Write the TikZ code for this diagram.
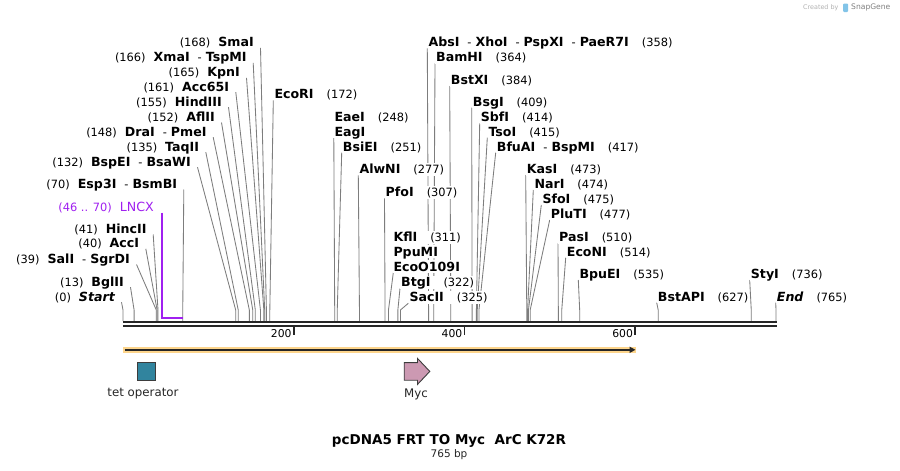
\documentclass[tikz,border=0pt]{standalone}
\usepackage{fontspec}
\setmainfont{DejaVu Sans}
\usetikzlibrary{arrows.meta}
\pgfdeclarelayer{bg}
\pgfsetlayers{bg,main}
\definecolor{sitegray}{RGB}{125,125,125}
\definecolor{bbdark}{RGB}{38,38,38}
\definecolor{lncxcol}{RGB}{160,32,240}
\definecolor{orangeband}{RGB}{253,213,140}
\definecolor{tetfill}{RGB}{49,132,158}
\definecolor{mycfill}{RGB}{204,153,178}
\definecolor{featborder}{RGB}{60,60,60}
\definecolor{logoblue}{RGB}{130,196,232}
\newcommand\sitenum[1]{{\fontsize{11.4}{13}\selectfont #1}}
\newcommand\sitename[1]{{\fontsize{12.6}{14}\selectfont\bfseries #1}}
\newcommand\sdash{\hspace{8pt}\sitenum{-}\hspace{4pt}}
\newcommand\bpx[1]{123+#1*0.8536}
% left site: name, xend, y, bp, number, names
\newcommand\lsite[6]{%
  \node[lbl,anchor=east] (#1) at ({#2+1},#3) {\sitenum{(#5)}\hspace{8pt}#6};
  \coordinate (#1c) at ({\bpx{#4}},321);
  \begin{pgfonlayer}{bg}
  \draw[site] ([shift={(5.5,5.5)}]#1.east) -- ([yshift=11pt]#1c) -- (#1c);
  \end{pgfonlayer}}
% right site: name, xstart, y, bp, names, number
\newcommand\rsite[6]{%
  \node[lbl,anchor=west] (#1) at ({#2-1},#3) {#5\hspace{13pt}\sitenum{(#6)}};
  \coordinate (#1c) at ({\bpx{#4}},321);
  \begin{pgfonlayer}{bg}
  \draw[site] ([shift={(0,6)}]#1.west) -- ([yshift=11pt]#1c) -- (#1c);
  \end{pgfonlayer}}
\begin{document}
\begin{tikzpicture}[x=1pt,y=-1pt,
  lbl/.style={inner xsep=1pt,inner ysep=2pt,text height=9pt,text depth=0pt,fill=white},
  site/.style={draw=sitegray,line width=0.85pt},
  tickmark/.style={draw=bbdark,line width=1.8pt},
  ticklbl/.style={inner sep=0pt,anchor=east,font=\fontsize{10.8}{12}\selectfont},
  featlbl/.style={inner sep=0pt,font=\fontsize{11.8}{13}\selectfont,text=black!85}]
\begin{pgfonlayer}{bg}
\fill[white] (0,0) rectangle (900,471);
\end{pgfonlayer}
\useasboundingbox (0,0) rectangle (900,471);

% logo
\node[inner sep=0pt,anchor=west,text=black!30,font=\fontsize{6.4}{7}\selectfont] (createdby) at (803,7.3) {Created by};
\fill[logoblue,rounded corners=1pt] (843,3.5) rectangle (848,12);
\node[inner sep=0pt,anchor=west,text=black!50,font=\fontsize{7.6}{9}\selectfont] (snapgene) at (851,7.5) {SnapGene};

% backbone
\coordinate (bbL1) at (123,322.2);
\coordinate (bbR1) at (776.5,322.2);
\coordinate (bbL2) at (123,325.8);
\coordinate (bbR2) at (776.5,325.8);
\draw[bbdark,line width=2.4pt] (bbL1) -- (bbR1);
\draw[bbdark,line width=2pt] (bbL2) -- (bbR2);

% ticks
\foreach \t in {200,400,600}{
  \coordinate (tick\t) at ({\bpx{\t}},326.5);
  \draw[tickmark] (tick\t) -- ++(0,8.5);
  \node[ticklbl] (ticklbl\t) at ([xshift=-2pt,yshift=-7pt]tick\t) {\t};
}

% left sites
\lsite{SmaI}{254}{42.3}{168}{168}{\sitename{SmaI}}
\lsite{XmaI}{246.7}{57.3}{166}{166}{\sitename{XmaI}\sdash\sitename{TspMI}}
\lsite{KpnI}{240}{72.3}{165}{165}{\sitename{KpnI}}
\lsite{AccSF}{229.3}{86.7}{161}{161}{\sitename{Acc65I}}
\lsite{HindIII}{222}{101.7}{155}{155}{\sitename{HindIII}}
\lsite{AflII}{215}{117}{152}{152}{\sitename{AflII}}
\lsite{DraI}{206.7}{131.7}{148}{148}{\sitename{DraI}\sdash\sitename{PmeI}}
\lsite{TaqII}{199.3}{146.7}{135}{135}{\sitename{TaqII}}
\lsite{BspEI}{191}{161.7}{132}{132}{\sitename{BspEI}\sdash\sitename{BsaWI}}
\lsite{EspTI}{177.3}{184}{70}{70}{\sitename{Esp3I}\sdash\sitename{BsmBI}}
\lsite{HincII}{146.7}{229}{41}{41}{\sitename{HincII}}
\lsite{AccI}{139.3}{243.3}{40}{40}{\sitename{AccI}}
\lsite{SalI}{130}{259}{39}{39}{\sitename{SalI}\sdash\sitename{SgrDI}}
\lsite{BglII}{124}{281.7}{13}{13}{\sitename{BglII}}
\lsite{Start}{115}{296.7}{0}{0}{\sitename{\itshape Start}}

% LNCX
\node[lbl,anchor=east,text=lncxcol] (lncx) at (155,206.7) {\sitenum{(46 .. 70)}\hspace{8pt}{\fontsize{12.6}{14}\selectfont LNCX}};
\coordinate (lncxA) at ({\bpx{46}},212.7);
\coordinate (lncxB) at ({\bpx{70}},317.8);
\draw[lncxcol,line width=1.6pt] (lncxA) |- (lncxB);

% right sites
\rsite{EcoRI}{274.3}{94.3}{172}{\sitename{EcoRI}}{172}
\node[lbl,anchor=west] (EaeI) at (333.3,116.7) {\sitename{EaeI}\hspace{13pt}\sitenum{(248)}};
\node[lbl,anchor=west] (EagI) at (333.3,131.7) {\sitename{EagI}};
\coordinate (EagIc) at ({\bpx{248}},321);
\begin{pgfonlayer}{bg}
\draw[site] ([shift={(0.5,6.5)}]EagI.west) -- ([yshift=11pt]EagIc) -- (EagIc);
\end{pgfonlayer}
\rsite{BsiEI}{342.7}{146.7}{251}{\sitename{BsiEI}}{251}
\rsite{AlwNI}{359.3}{169.3}{277}{\sitename{AlwNI}}{277}
\rsite{PfoI}{385.5}{192.3}{307}{\sitename{PfoI}}{307}
\node[lbl,anchor=west] (KflI) at (392.3,237.3) {\sitename{KflI}\hspace{13pt}\sitenum{(311)}};
\node[lbl,anchor=west] (PpuMI) at (392.3,251.7) {\sitename{PpuMI}};
\node[lbl,anchor=west] (EcoO) at (392.3,266.7) {\sitename{EcoO109I}};
\coordinate (EcoOc) at ({\bpx{311}},321);
\begin{pgfonlayer}{bg}
\draw[site] ([shift={(1,6)}]EcoO.west) -- ([yshift=11pt]EcoOc) -- (EcoOc);
\end{pgfonlayer}
\rsite{BtgI}{401}{282.3}{322}{\sitename{BtgI}}{322}
\rsite{SacII}{409.3}{297.3}{325}{\sitename{SacII}}{325}
\rsite{AbsI}{428.3}{42.3}{358}{\sitename{AbsI}\sdash\sitename{XhoI}\sdash\sitename{PspXI}\sdash\sitename{PaeR7I}}{358}
\rsite{BamHI}{436}{57.3}{364}{\sitename{BamHI}}{364}
\rsite{BstXI}{450.7}{80}{384}{\sitename{BstXI}}{384}
\rsite{BsgI}{472.7}{101.7}{409}{\sitename{BsgI}}{409}
\rsite{SbfI}{480.7}{117.3}{414}{\sitename{SbfI}}{414}
\rsite{TsoI}{488.3}{131.7}{415}{\sitename{TsoI}}{415}
\rsite{BfuAI}{496.7}{146.7}{417}{\sitename{BfuAI}\sdash\sitename{BspMI}}{417}
\rsite{KasI}{526.7}{169}{473}{\sitename{KasI}}{473}
\rsite{NarI}{534.3}{184}{474}{\sitename{NarI}}{474}
\rsite{SfoI}{542.3}{199}{475}{\sitename{SfoI}}{475}
\rsite{PluTI}{550.7}{214}{477}{\sitename{PluTI}}{477}
\rsite{PasI}{559}{237.3}{510}{\sitename{PasI}}{510}
\rsite{EcoNI}{566.7}{251.7}{514}{\sitename{EcoNI}}{514}
\rsite{BpuEI}{579.3}{274}{535}{\sitename{BpuEI}}{535}
\rsite{BstAPI}{657.7}{296.7}{627}{\sitename{BstAPI}}{627}
\rsite{StyI}{750.7}{274}{736}{\sitename{StyI}}{736}
\rsite{End}{776.7}{296.7}{765}{\sitename{\itshape End}}{765}

% orange ORF arrow
\coordinate (orfL) at (123,349.8);
\coordinate (orfR) at (636.5,349.8);
\draw[orangeband,line width=6pt] (orfL) -- ([xshift=-1pt]orfR);
\draw[bbdark,line width=1.6pt,-{Triangle[length=6pt,width=6pt]}] ([xshift=1.5pt]orfL) -- ([xshift=-1pt]orfR);

% features
\draw[featborder,line width=0.9pt,fill=tetfill] (137,362.6) rectangle (155,380.2);
\node[featlbl] (tetlbl) at (143,394) {tet operator};
\draw[featborder,line width=0.9pt,fill=mycfill] (404.2,362.6) -- (417.5,362.6) -- (417.5,358.4) -- (429.8,371.4) -- (417.5,384.4) -- (417.5,380.2) -- (404.2,380.2) -- cycle;
\node[featlbl] (myclbl) at (416,394) {Myc};

% title
\node[inner sep=0pt,font=\fontsize{13.5}{16}\selectfont\bfseries] (title) at (449,440.7) {pcDNA5 FRT TO Myc\ \ ArC K72R};
\node[inner sep=0pt,font=\fontsize{10.5}{12}\selectfont,text=black!85] (bp) at (449,454.3) {765 bp};
\end{tikzpicture}
\end{document}
